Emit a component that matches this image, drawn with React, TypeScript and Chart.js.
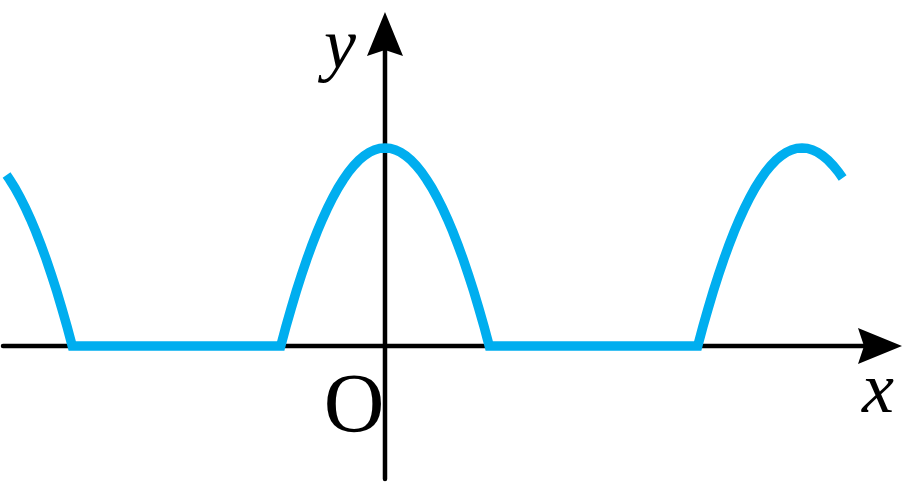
import React, { useEffect, useRef } from "react";
import { Chart, registerables } from "chart.js";

Chart.register(...registerables);

// Curve (x in arch half-widths, y in peak heights)
const xValues = [
  -3.63, -3.6, -3.55, -3.5, -3.45, -3.4, -3.35, -3.3, -3.25, -3.2, -3.15, -3.1, -3.05, -3.0,
  -1.0, -0.95, -0.9, -0.85, -0.8, -0.75, -0.7, -0.65, -0.6, -0.55, -0.5,
  -0.45, -0.4, -0.35, -0.3, -0.25, -0.2, -0.15, -0.1, -0.05, 0.0,
  0.05, 0.1, 0.15, 0.2, 0.25, 0.3, 0.35, 0.4, 0.45, 0.5,
  0.55, 0.6, 0.65, 0.7, 0.75, 0.8, 0.85, 0.9, 0.95, 1.0,
  3.0, 3.05, 3.1, 3.15, 3.2, 3.25, 3.3, 3.35, 3.4, 3.45, 3.5,
  3.55, 3.6, 3.65, 3.7, 3.75, 3.8, 3.85, 3.9, 3.95, 4.0,
  4.05, 4.1, 4.15, 4.2, 4.25, 4.3, 4.35, 4.39,
];
const yValues = [
  0.863, 0.84, 0.798, 0.75, 0.698, 0.64, 0.578, 0.51, 0.438, 0.36, 0.278, 0.19, 0.098, 0.0,
  0.0, 0.098, 0.19, 0.278, 0.36, 0.438, 0.51, 0.578, 0.64, 0.698, 0.75,
  0.798, 0.84, 0.878, 0.91, 0.938, 0.96, 0.978, 0.99, 0.998, 1.0,
  0.998, 0.99, 0.978, 0.96, 0.938, 0.91, 0.878, 0.84, 0.798, 0.75,
  0.698, 0.64, 0.578, 0.51, 0.438, 0.36, 0.278, 0.19, 0.098, 0.0,
  0.0, 0.098, 0.19, 0.278, 0.36, 0.438, 0.51, 0.578, 0.64, 0.698, 0.75,
  0.798, 0.84, 0.878, 0.91, 0.938, 0.96, 0.978, 0.99, 0.998, 1.0,
  0.998, 0.99, 0.978, 0.96, 0.938, 0.91, 0.878, 0.848,
];
const xRange = [-3.693, 4.969];
const yRange = [-0.687, 1.747];
const axisLabels = { x: "x", y: "y", origin: "O" };

const BLUE = "#00AEEF";

const axesPlugin = {
  id: "mathAxes",
  beforeDatasetsDraw(chart: any) {
    const { ctx, chartArea, scales } = chart;
    const ox = scales.x.getPixelForValue(0);
    const oy = scales.y.getPixelForValue(0);
    const xTip = chartArea.right - 1;
    const yTip = chartArea.top + 12;
    const L = 44, H = 18, ind = 6;
    ctx.save();
    ctx.strokeStyle = "#000";
    ctx.fillStyle = "#000";
    ctx.lineWidth = 4.5;
    ctx.lineCap = "round";
    // x axis
    ctx.beginPath();
    ctx.moveTo(chartArea.left + 3, oy);
    ctx.lineTo(xTip - L + ind + 2, oy);
    ctx.stroke();
    // y axis
    ctx.beginPath();
    ctx.moveTo(ox, chartArea.bottom - 3);
    ctx.lineTo(ox, yTip + L - ind - 2);
    ctx.stroke();
    // x arrow
    ctx.beginPath();
    ctx.moveTo(xTip, oy);
    ctx.lineTo(xTip - L, oy - H);
    ctx.lineTo(xTip - L + ind, oy);
    ctx.lineTo(xTip - L, oy + H);
    ctx.closePath();
    ctx.fill();
    // y arrow
    ctx.beginPath();
    ctx.moveTo(ox, yTip);
    ctx.lineTo(ox - H, yTip + L);
    ctx.lineTo(ox, yTip + L - ind);
    ctx.lineTo(ox + H, yTip + L);
    ctx.closePath();
    ctx.fill();
    ctx.restore();
  },
  afterDraw(chart: any) {
    const { ctx, scales } = chart;
    const ox = scales.x.getPixelForValue(0);
    const oy = scales.y.getPixelForValue(0);
    ctx.save();
    ctx.fillStyle = "#000";
    ctx.textAlign = "center";
    ctx.textBaseline = "alphabetic";
    ctx.font = "italic 72px 'Liberation Serif', serif";
    ctx.fillText(axisLabels.y, ox - 45, 68);
    ctx.fillText(axisLabels.x, chart.chartArea.right - 25, oy + 66);
    ctx.font = "84px 'Liberation Serif', serif";
    ctx.fillText(axisLabels.origin, ox - 31, oy + 86);
    ctx.restore();
  },
};

export default function App() {
  const ref = useRef<HTMLCanvasElement | null>(null);
  useEffect(() => {
    if (!ref.current) return;
    const data = xValues.map((x, i) => ({ x, y: yValues[i] }));
    const chart = new Chart(ref.current, {
      type: "line",
      data: {
        datasets: [
          {
            data,
            borderColor: BLUE,
            borderWidth: 9.5,
            pointRadius: 0,
            tension: 0,
            borderJoinStyle: "miter",
            borderCapStyle: "butt",
            fill: false,
          },
        ],
      },
      options: {
        animation: false,
        responsive: false,
        maintainAspectRatio: false,
        layout: { padding: 0 },
        plugins: { legend: { display: false }, tooltip: { enabled: false } },
        scales: {
          x: { type: "linear", min: xRange[0], max: xRange[1], display: false },
          y: { type: "linear", min: yRange[0], max: yRange[1], display: false },
        },
      },
      plugins: [axesPlugin],
    });
    return () => chart.destroy();
  }, []);
  return (
    <div style={{ position: "absolute", left: 0, top: 0, width: 903, height: 482, background: "#fff" }}>
      <canvas ref={ref} width={903} height={482} style={{ display: "block" }} />
    </div>
  );
}
